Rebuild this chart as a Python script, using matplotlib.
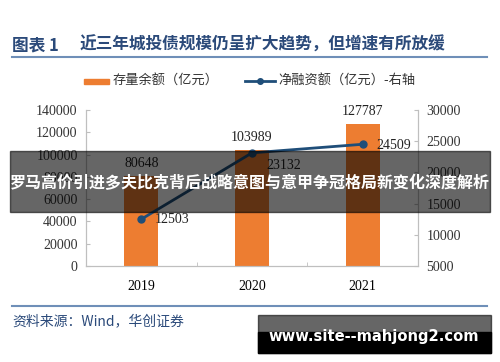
import matplotlib.pyplot as plt
from matplotlib.patches import Rectangle
from matplotlib.lines import Line2D
import numpy as np

plt.rcParams['font.family'] = ['Noto Sans CJK SC', 'DejaVu Sans']

# data
years = ['2019', '2020', '2021']
stock = [80648, 103989, 127787]        # 存量余额（亿元）
net_financing = [12503, 23132, 24509]  # 净融资额（亿元）-右轴

title_no = '图表 1'
title = '近三年城投债规模仍呈扩大趋势，但增速有所放缓'
source = '资料来源：Wind，华创证券'
banner = '罗马高价引进多夫比克背后战略意图与意甲争冠格局新变化深度解析'
site = 'www.site--mahjong2.com'

navy = '#2B4A7A'
orange = '#ED7D31'
line_c = '#1F4E79'
serif = 'Liberation Serif'

fig = plt.figure(figsize=(5, 3.62), dpi=100)
W, H = 500, 362

def fx(px):
    return px / W

def fy(py):
    return 1 - py / H

# title and rules
fig.text(fx(12), fy(45), title_no, fontsize=12, color=navy, fontweight='bold',
         va='center', ha='left')
fig.text(fx(80), fy(45), title, fontsize=12, color=navy, fontweight='bold',
         va='center', ha='left')
fig.add_artist(Line2D([fx(12), fx(487)], [fy(57), fy(57)], color='#6F8FB8', lw=1.5))
fig.add_artist(Line2D([fx(12), fx(487)], [fy(306), fy(306)], color='#6F8FB8', lw=1.5))
fig.text(fx(12), fy(321), source, fontsize=10, color=navy, style='italic',
         va='center', ha='left')

# axes
ax = fig.add_axes([fx(86), fy(266), fx(418) - fx(86), fy(110) - fy(266)])
x = np.arange(len(years))
ax.bar(x, stock, width=0.31, color=orange, zorder=2)
ax.set_xlim(-0.5, 2.5)
ax.set_ylim(0, 140000)
ax.set_yticks(np.arange(0, 140001, 20000))
ax.set_xticks(x)
ax.set_xticklabels(years, fontfamily=serif, fontsize=10)
ax.set_xticks([0.5, 1.5], minor=True)
ax.tick_params(axis='x', which='major', length=0, pad=10)
ax.tick_params(axis='x', which='minor', length=3, direction='in', color='#BFBFBF')
ax.tick_params(axis='y', length=3, direction='in', color='#BFBFBF', pad=6)
for lab in ax.get_yticklabels():
    lab.set_fontfamily(serif)
    lab.set_fontsize(10)
    lab.set_color('#333333')
for s in ['left', 'bottom', 'right']:
    ax.spines[s].set_color('#BFBFBF')
ax.spines['top'].set_visible(False)

for xi, v in zip(x, stock):
    ax.annotate(str(v), (xi, v), xytext=(0, 9), textcoords='offset points',
                ha='center', va='center', fontfamily=serif, fontsize=10, color='#222222')

ax2 = ax.twinx()
ax2.plot(x, net_financing, color=line_c, lw=2, marker='o', ms=5, zorder=3)
ax2.set_ylim(5000, 30000)
ax2.set_yticks(np.arange(5000, 30001, 5000))
ax2.tick_params(axis='y', length=3, direction='in', color='#BFBFBF', pad=6)
for lab in ax2.get_yticklabels():
    lab.set_fontfamily(serif)
    lab.set_fontsize(10)
    lab.set_color('#333333')
for s in ['left', 'bottom', 'right']:
    ax2.spines[s].set_color('#BFBFBF')
ax2.spines['top'].set_visible(False)

offsets = [(10, 0), (10, -9), (10, -1)]
for xi, v, off in zip(x, net_financing, offsets):
    ax2.annotate(str(v), (xi, v), xytext=off, textcoords='offset points',
                 ha='left', va='center', fontfamily=serif, fontsize=10, color='#222222')

# legend
fig.add_artist(Rectangle((fx(84), fy(83.5)), fx(25), fy(79) - fy(84), transform=fig.transFigure,
                         color=orange))
fig.text(fx(113), fy(81), '存量余额（亿元）', fontsize=9.5, color='#333333', va='center')
fig.add_artist(Line2D([fx(245), fx(275)], [fy(81), fy(81)], color=line_c, lw=2,
                      transform=fig.transFigure))
fig.add_artist(Line2D([fx(260)], [fy(81)], color=line_c, marker='o', ms=4,
                      transform=fig.transFigure))
fig.text(fx(278), fy(81), '净融资额（亿元）-右轴', fontsize=9.5, color='#333333', va='center')

# overlay banners
fig.add_artist(Rectangle((fx(10), fy(212)), fx(480), fy(151) - fy(212),
                         transform=fig.transFigure, color='black', alpha=0.6, zorder=10))
fig.text(fx(250), fy(183), banner, fontsize=11.5, color='white', fontweight='bold',
         ha='center', va='center', zorder=11)
fig.add_artist(Rectangle((fx(258), fy(353)), fx(233), fy(315) - fy(353),
                         transform=fig.transFigure, color='black', alpha=0.6, zorder=10))
fig.add_artist(Rectangle((fx(258), fy(353)), fx(233), fy(332) - fy(353),
                         transform=fig.transFigure, color='black', zorder=10))
fig.text(fx(374), fy(337), site, fontsize=10.6, color='white', fontweight='bold',
         ha='center', va='center', zorder=11, family='DejaVu Sans')

fig.savefig('out.png', dpi=100)
